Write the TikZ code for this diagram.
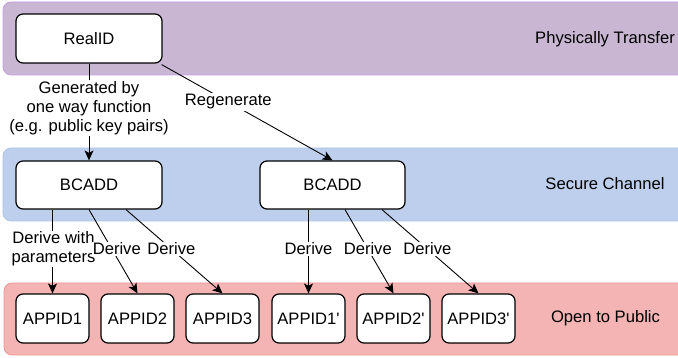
\documentclass[tikz,border=0pt]{standalone}
\usepackage{fontspec}
\setmainfont{Liberation Sans}[Ligatures=TeXOff]
\usetikzlibrary{arrows.meta}
\definecolor{pfill}{RGB}{201,182,211}
\definecolor{pdraw}{RGB}{196,160,232}
\definecolor{bfill}{RGB}{189,207,236}
\definecolor{bdraw}{RGB}{172,196,234}
\definecolor{rfill}{RGB}{244,180,180}
\definecolor{rdraw}{RGB}{238,150,150}
\tikzset{
  band/.style={rounded corners=8pt, line width=0.8pt},
  box/.style={draw=black, fill=white, rounded corners=7pt, line width=1.2pt, minimum height=48pt, inner sep=0pt},
  bigbox/.style={box, minimum width=146pt},
  appbox/.style={box, minimum width=73pt, minimum height=49pt},
  conn/.style={draw=black, line width=0.9pt, -{Stealth[length=10pt,width=9pt,inset=2.5pt]}},
  lbl/.style={fill=white, align=center, inner sep=1pt},
  bandtext/.style={anchor=center}
}
\begin{document}
\begin{tikzpicture}[x=1pt,y=-1pt, font=\fontsize{16.6}{19}\selectfont]
\useasboundingbox (0,0) rectangle (678,358);
% bands
\draw[band, fill=pfill, draw=pdraw] (3,2) rectangle (687,75);
\draw[band, fill=bfill, draw=bdraw] (3,148) rectangle (687,221);
\draw[band, fill=rfill, draw=rdraw] (4,283) rectangle (687,355);
\node[bandtext] (t1) at (605,39) {Physically Transfer};
\node[bandtext] (t2) at (605,184) {Secure Channel};
\node[bandtext] (t3) at (605.5,318) {Open to Public};
% nodes
\node[bigbox, minimum height=49pt] (realid) at (89,38.5) {RealID};
\node[bigbox] (bc1) at (89,185) {BCADD};
\node[bigbox, minimum width=145pt] (bc2) at (332.5,185) {BCADD};
\node[appbox] (a1) at (52.5,318.5) {APPID1};
\node[appbox] (a2) at (137.5,318.5) {APPID2};
\node[appbox] (a3) at (222.5,318.5) {APPID3};
\node[appbox] (a4) at (308.5,318.5) {APPID1'};
\node[appbox] (a5) at (393.5,318.5) {APPID2'};
\node[appbox] (a6) at (478.5,318.5) {APPID3'};
% connectors
\draw[conn] (realid.south) -- node[lbl, pos=0.46] {Generated by\\one way function\\(e.g. public key pairs)} (bc1.north);
\draw[conn] ([xshift=-1pt,yshift=-1pt]realid.south east) -- node[lbl, pos=0.39, inner sep=2pt] {Regenerate} (bc2.north);
\draw[conn] (bc1.south -| a1) -- node[lbl, pos=0.47, xshift=1pt] {Derive with\\parameters} (a1.north);
\draw[conn] (bc1.south) -- node[lbl, pos=0.47, xshift=5pt] {Derive} (a2.north);
\draw[conn] ([xshift=37pt]bc1.south) -- node[lbl, pos=0.47] {Derive} (a3.north);
\draw[conn] (bc2.south -| a4) -- node[lbl, pos=0.47] {Derive} (a4.north);
\draw[conn] ([xshift=12.5pt]bc2.south) -- node[lbl, pos=0.47] {Derive} (a5.north);
\draw[conn] ([xshift=49.5pt]bc2.south) -- node[lbl, pos=0.47] {Derive} (a6.north);
\end{tikzpicture}
\end{document}
